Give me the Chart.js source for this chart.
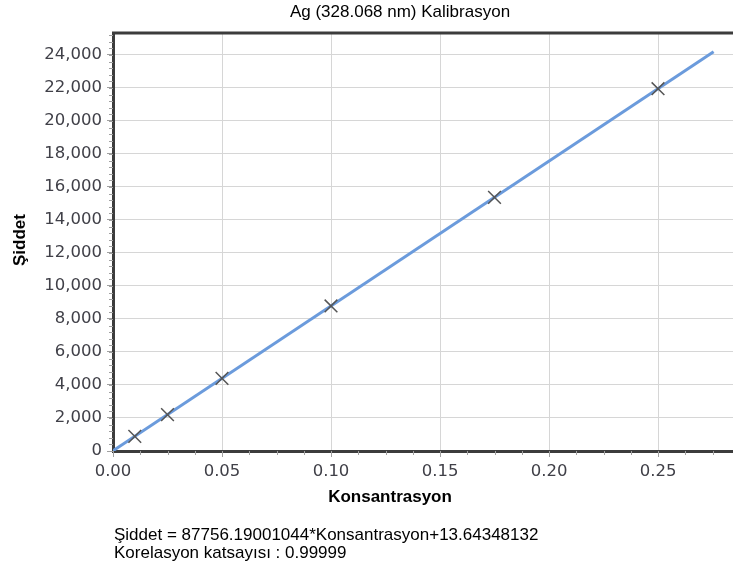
<!DOCTYPE html>
<html>
<head>
<meta charset="utf-8">
<script src="https://cdn.jsdelivr.net/npm/chart.js@4"></script>
<style>
  body { margin: 0; background: #fff; }
  #wrap { position: relative; width: 733px; height: 571px; overflow: hidden; }
  .txt { position: absolute; font-family: "Liberation Sans", Arial, sans-serif; font-size: 17px; color: #000; white-space: nowrap; }
  #title { left: 0; width: 800px; top: 2px; text-align: center; }
  #xtitle { left: 290px; width: 200px; top: 487px; text-align: center; font-weight: bold; }
  #ytitle { left: 20px; top: 240px; font-weight: bold; transform: translate(-50%, -50%) rotate(-90deg); }
  #eq { left: 114px; top: 526px; line-height: 18px; }
</style>
</head>
<body>
<div id="wrap">
  <canvas id="myChart" width="733" height="571"></canvas>
  <div class="txt" id="title">Ag (328.068 nm) Kalibrasyon</div>
  <div class="txt" id="ytitle">Şiddet</div>
  <div class="txt" id="xtitle">Konsantrasyon</div>
  <div class="txt" id="eq">Şiddet = 87756.19001044*Konsantrasyon+13.64348132<br>Korelasyon katsayısı : 0.99999</div>
</div>
<script>
// standartlar (okunan degerler)
const konsantrasyon = [0.01, 0.025, 0.05, 0.1, 0.175, 0.25];
const siddet = [891, 2207, 4401, 8789, 15371, 21953];

// kalibrasyon dogrusu uclari
const dogruX = [0, 0.2755];
const dogruY = [14, 24190];

const xTicks = [0.00, 0.05, 0.10, 0.15, 0.20, 0.25];
const yTicks = [0, 2000, 4000, 6000, 8000, 10000, 12000, 14000, 16000, 18000, 20000, 22000, 24000];

// kucuk tik cizgileri + ust cerceve
const minorTicks = {
  id: 'minorTicks',
  afterDraw(chart) {
    const c = chart.ctx, a = chart.chartArea;
    const x = chart.scales.x, y = chart.scales.y;
    c.save();
    c.strokeStyle = '#a0a0a0';
    c.lineWidth = 1;
    for (let v = 0; v <= x.max + 1e-9; v += 0.0125) {
      const px = Math.round(x.getPixelForValue(v)) + 0.5;
      c.beginPath(); c.moveTo(px, a.bottom); c.lineTo(px, a.bottom + 4); c.stroke();
    }
    for (let v = 0; v <= y.max; v += 400) {
      const py = Math.round(y.getPixelForValue(v)) + 0.5;
      c.beginPath(); c.moveTo(a.left - 4, py); c.lineTo(a.left, py); c.stroke();
    }
    c.strokeStyle = '#3c3c3c';
    c.lineWidth = 3;
    c.beginPath(); c.moveTo(a.left - 1, a.top); c.lineTo(a.right, a.top); c.stroke();
    c.restore();
  }
};

const ctx = document.getElementById('myChart');

new Chart(ctx, {
  type: 'scatter',
  data: {
    datasets: [{
      type: 'line',
      data: dogruX.map((v, i) => ({ x: v, y: dogruY[i] })),
      borderColor: '#6b9bdc',
      borderWidth: 3,
      pointRadius: 0,
      order: 2
    }, {
      data: konsantrasyon.map((v, i) => ({ x: v, y: siddet[i] })),
      pointStyle: 'crossRot',
      pointRadius: 9,
      borderColor: '#555555',
      borderWidth: 1.5,
      order: 1
    }]
  },
  options: {
    responsive: false,
    animation: false,
    layout: { autoPadding: false, padding: { top: 33, right: 0, left: 0, bottom: 0 } },
    plugins: { legend: { display: false }, tooltip: { enabled: false } },
    scales: {
      x: {
        type: 'linear',
        min: 0,
        max: 0.2844,
        afterFit(s) { s.height = 120; s.paddingRight = 0; s.paddingLeft = 0; },
        afterBuildTicks(s) { s.ticks = xTicks.map(v => ({ value: v })); },
        ticks: {
          callback: v => v.toFixed(2),
          font: { family: 'DejaVu Sans', size: 16.5 },
          color: '#404048',
          padding: 5,
          maxRotation: 0
        },
        grid: { color: '#d6d6d6', tickColor: '#a0a0a0', tickLength: 6 },
        border: { color: '#3c3c3c', width: 3 }
      },
      y: {
        min: 0,
        max: 25330,
        afterFit(s) { s.width = 113; s.paddingTop = 0; s.paddingBottom = 0; },
        afterBuildTicks(s) { s.ticks = yTicks.map(v => ({ value: v })); },
        ticks: {
          callback: v => v.toLocaleString('en-US'),
          font: { family: 'DejaVu Sans', size: 16.5 },
          color: '#404048',
          padding: 5
        },
        grid: { color: '#d6d6d6', tickColor: '#a0a0a0', tickLength: 6 },
        border: { color: '#3c3c3c', width: 3 }
      }
    }
  },
  plugins: [minorTicks]
});
</script>
</body>
</html>
